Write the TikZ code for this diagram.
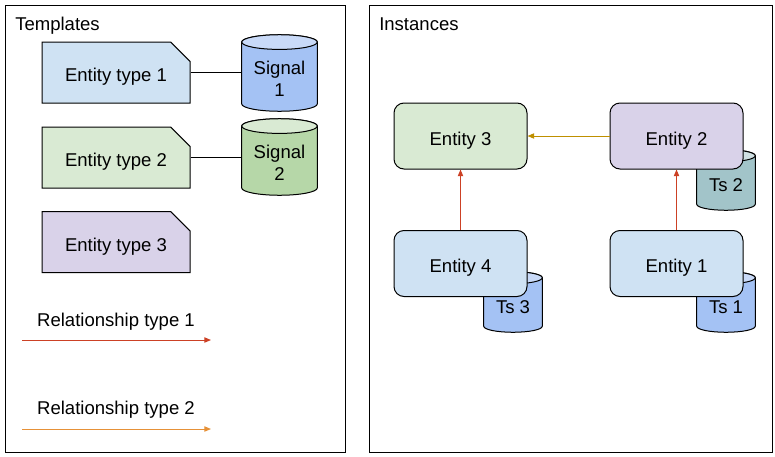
\documentclass[tikz,border=0pt]{standalone}
\usepackage{fontspec}
\setmainfont{Liberation Sans}
\usetikzlibrary{arrows.meta,shapes.misc,calc}
\definecolor{blueL}{HTML}{CFE2F3}
\definecolor{greenL}{HTML}{D9EAD3}
\definecolor{purpleL}{HTML}{D9D2E9}
\definecolor{blueM}{HTML}{A4C2F4}
\definecolor{blueT}{HTML}{C9DAF8}
\definecolor{greenM}{HTML}{B6D7A8}
\definecolor{tealM}{HTML}{A2C4C9}
\definecolor{tealT}{HTML}{D0E0E3}
\definecolor{relA}{HTML}{CC4125}
\definecolor{relB}{HTML}{E69138}
\definecolor{relC}{HTML}{BF9000}
\newcommand\drawcyl[4]{%
  \filldraw[line width=0.75pt, fill=#2] let \p1=(#1.north west), \p2=(#1.south east), \n1={(\x2-\x1)/2} in
    (\x1,{\y1-#4}) -- (\x1,{\y2+#4}) arc[start angle=180,end angle=360,x radius=\n1,y radius=#4]
    -- (\x2,{\y1-#4}) arc[start angle=0,end angle=180,x radius=\n1,y radius=#4] -- cycle;
  \filldraw[line width=0.75pt, fill=#3] let \p1=(#1.north west), \p2=(#1.south east), \n1={(\x2-\x1)/2} in
    ({\x1+\n1},{\y1-#4}) ellipse[x radius=\n1, y radius=#4];
}
\begin{document}
\begin{tikzpicture}[x=0.75pt,y=0.75pt,
  font=\fontsize{13.9}{16.5}\selectfont,
  panel/.style={draw=black, line width=0.75pt},
  tmpl/.style={chamfered rectangle, chamfered rectangle corners=north east,
    chamfered rectangle xsep=7.5pt, chamfered rectangle ysep=7.5pt,
    draw=black, line width=0.75pt, minimum width=111pt, minimum height=45.75pt, inner sep=0pt,
    text height=14pt, text depth=0pt},
  inst/.style={rectangle, rounded corners=7.5pt, draw=black, line width=0.75pt,
    minimum width=99.75pt, minimum height=49.5pt, inner sep=0pt,
    text height=13.5pt, text depth=0pt},
  cylbox/.style={rectangle, inner sep=0pt, minimum width=#1},
  sigbox/.style={cylbox=56.25pt, minimum height=57pt},
  tsbox/.style={cylbox=43.5pt, minimum height=45pt},
  lbl/.style={inner sep=0pt, align=center},
  link/.style={draw=black, line width=0.75pt},
  rel/.style={line width=0.75pt, -{Triangle[length=5pt,width=4pt]}},
]
\useasboundingbox (0,0) rectangle (775,-457);
% panels
\draw[panel] (5,-5) rectangle (345,-452);
\draw[panel] (369,-5) rectangle (772,-452);
\node[anchor=base west, inner sep=0pt] (ttl1) at (15,-30) {Templates};
\node[anchor=base west, inner sep=0pt] (ttl2) at (379,-30) {Instances};

% templates
\node[tmpl, fill=blueL] (et1) at (116,-72.5) {Entity type 1};
\node[tmpl, fill=greenL] (et2) at (116,-157.5) {Entity type 2};
\node[tmpl, fill=purpleL] (et3) at (116,-242) {Entity type 3};

\node[sigbox] (s1) at (279.5,-73) {};
\drawcyl{s1}{blueM}{blueT}{5.5pt}
\node[lbl] (s1t) at (279.5,-79) {Signal\\1};
\node[sigbox] (s2) at (279.5,-157) {};
\drawcyl{s2}{greenM}{greenL}{5.5pt}
\node[lbl] (s2t) at (279.5,-163) {Signal\\2};

\draw[link] (et1.east) -- (et1.east -| s1.west);
\draw[link] (et2.east) -- (et2.east -| s2.west);

% legend
\node[lbl] (r1t) at (116,-322) {Relationship type 1};
\coordinate (r1a) at (22,-340);
\coordinate (r1b) at (211,-340);
\draw[rel, draw=relA, fill=relA] (r1a) -- (r1b);
\node[lbl] (r2t) at (116,-410) {Relationship type 2};
\coordinate (r2a) at (22,-429);
\coordinate (r2b) at (211,-429);
\draw[rel, draw=relB, fill=relB] (r2a) -- (r2b);

% instances: cylinders first
\node[tsbox] (ts2) at (726,-180) {};
\drawcyl{ts2}{tealM}{tealT}{4.5pt}
\node[lbl] (ts2t) at (726,-185) {Ts 2};
\node[tsbox] (ts3) at (513,-302) {};
\drawcyl{ts3}{blueM}{blueT}{4.5pt}
\node[lbl] (ts3t) at (513,-307) {Ts 3};
\node[tsbox] (ts1) at (726,-302) {};
\drawcyl{ts1}{blueM}{blueT}{4.5pt}
\node[lbl] (ts1t) at (726,-307) {Ts 1};

\node[inst, fill=greenL] (e3) at (460.5,-136) {Entity 3};
\node[inst, fill=purpleL] (e2) at (676.5,-136) {Entity 2};
\node[inst, fill=blueL] (e4) at (460.5,-263.5) {Entity 4};
\node[inst, fill=blueL] (e1) at (676.5,-263.5) {Entity 1};

\draw[rel, draw=relC, fill=relC] (e2.west) -- (e3.east);
\draw[rel, draw=relA, fill=relA] (e4.north) -- (e3.south);
\draw[rel, draw=relA, fill=relA] (e1.north) -- (e2.south);
\end{tikzpicture}
\end{document}
